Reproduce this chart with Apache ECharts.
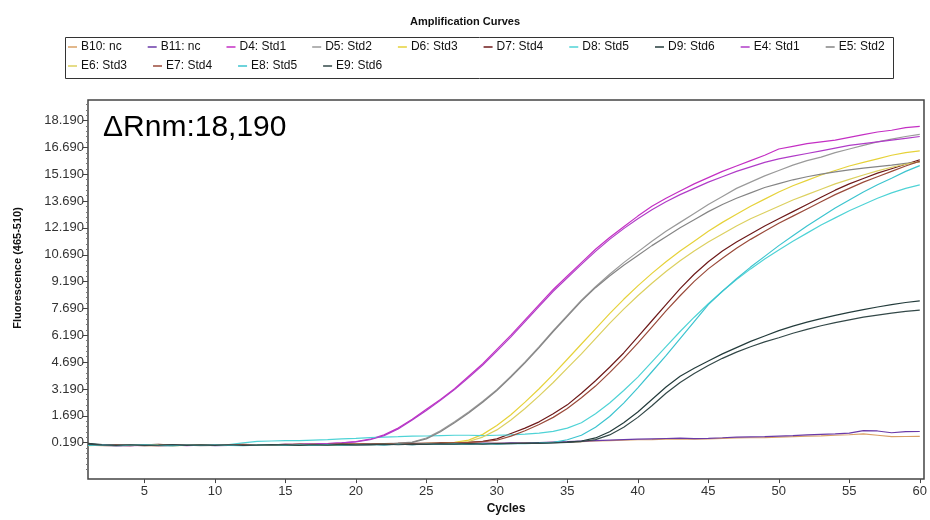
<!DOCTYPE html>
<html><head><meta charset="utf-8">
<script src="https://cdn.jsdelivr.net/npm/echarts@6/dist/echarts.min.js"></script>
<style>html,body{margin:0;padding:0;background:#fff}#c{width:930px;height:520px}</style>
</head><body><div id="c"></div>
<script>
// ---------- DATA ----------
const cycles = [1,2,3,4,5,6,7,8,9,10,11,12,13,14,15,16,17,18,19,20,21,22,23,24,25,26,27,28,29,30,31,32,33,34,35,36,37,38,39,40,41,42,43,44,45,46,47,48,49,50,51,52,53,54,55,56,57,58,59,60];
const xTickValues = [5,10,15,20,25,30,35,40,45,50,55,60];
const yTickValues = [0.19,1.69,3.19,4.69,6.19,7.69,9.19,10.69,12.19,13.69,15.19,16.69,18.19];
const seriesNames = ['B10: nc','B11: nc','D4: Std1','D5: Std2','D6: Std3','D7: Std4','D8: Std5','D9: Std6','E4: Std1','E5: Std2','E6: Std3','E7: Std4','E8: Std5','E9: Std6'];

const b10 = [0.05,0.02,0.03,0.06,0.04,0.01,0.05,0.07,0.04,0.03, 0.05,0.08,0.06,0.04,0.07,0.09,0.06,0.08,0.1,0.07, 0.09,0.12,0.1,0.13,0.11,0.14,0.12,0.15,0.13,0.16, 0.15,0.17,0.18,0.2,0.22,0.25,0.28,0.3,0.33,0.35, 0.36,0.38,0.4,0.38,0.4,0.43,0.45,0.46,0.47,0.5, 0.52,0.55,0.57,0.6,0.63,0.68,0.6,0.52,0.53,0.54];
const b11 = [0.1,0.04,0.0,0.03,0.05,0.02,0.04,0.03,0.06,0.02, 0.04,0.06,0.03,0.07,0.05,0.06,0.08,0.05,0.07,0.09, 0.08,0.1,0.12,0.09,0.13,0.11,0.14,0.12,0.16,0.15, 0.17,0.16,0.19,0.22,0.24,0.27,0.3,0.33,0.36,0.38, 0.4,0.42,0.44,0.41,0.43,0.46,0.5,0.51,0.52,0.55, 0.58,0.62,0.65,0.68,0.72,0.86,0.84,0.74,0.8,0.81];
const d4 = [0.06,0.03,0.05,0.02,0.04,0.06,0.03,0.05,0.07,0.04, 0.06,0.05,0.08,0.06,0.09,0.1,0.12,0.14,0.18,0.25, 0.38,0.62,1.0,1.5,2.05,2.6,3.2,3.9,4.6,5.4, 6.2,7.05,7.9,8.75,9.5,10.25,11.0,11.65,12.25,12.85, 13.4,13.85,14.25,14.65,15.0,15.35,15.65,15.95,16.25,16.6, 16.75,16.9,17.0,17.1,17.25,17.4,17.55,17.65,17.8,17.87];
const d5 = [0.04,0.07,0.03,0.05,0.02,0.06,0.04,0.03,0.05,0.08, 0.05,0.07,0.04,0.06,0.08,0.05,0.09,0.07,0.1,0.12, 0.11,0.14,0.16,0.22,0.45,0.85,1.35,1.9,2.5,3.15, 3.9,4.7,5.55,6.45,7.3,8.15,8.9,9.6,10.25,10.85, 11.45,12.0,12.5,13.0,13.5,13.95,14.4,14.75,15.1,15.4, 15.7,15.95,16.15,16.4,16.6,16.8,17.0,17.15,17.3,17.42];
const d6 = [0.02,0.05,0.07,0.04,0.06,0.03,0.05,0.08,0.06,0.04, 0.06,0.04,0.07,0.05,0.08,0.06,0.04,0.07,0.09,0.08, 0.1,0.12,0.11,0.14,0.13,0.16,0.2,0.33,0.65,1.15, 1.75,2.45,3.2,4.0,4.85,5.7,6.55,7.4,8.2,8.95, 9.65,10.3,10.9,11.45,12.0,12.5,12.95,13.4,13.8,14.2, 14.55,14.85,15.15,15.4,15.65,15.85,16.05,16.25,16.4,16.5];
const d7 = [0.05,0.08,0.04,0.02,0.06,0.09,0.05,0.03,0.07,0.05, 0.08,0.06,0.04,0.07,0.09,0.06,0.1,0.08,0.07,0.11, 0.09,0.13,0.12,0.15,0.14,0.17,0.19,0.21,0.26,0.4, 0.7,1.0,1.35,1.8,2.3,2.95,3.65,4.4,5.2,6.1, 7.0,7.9,8.8,9.6,10.3,10.9,11.4,11.85,12.3,12.7, 13.1,13.5,13.9,14.3,14.65,14.95,15.25,15.5,15.75,16.0];
const d8 = [0.12,0.05,0.08,0.04,0.06,0.03,0.07,0.05,0.04,0.06, 0.08,0.18,0.26,0.28,0.3,0.3,0.33,0.36,0.4,0.43, 0.47,0.5,0.52,0.55,0.56,0.58,0.6,0.6,0.58,0.6, 0.62,0.66,0.72,0.82,1.0,1.3,1.8,2.4,3.1,3.85, 4.7,5.55,6.4,7.2,7.95,8.65,9.3,9.9,10.45,10.95, 11.45,11.9,12.35,12.75,13.15,13.5,13.85,14.15,14.4,14.6];
const d9 = [0.15,0.08,0.05,0.03,0.06,0.04,0.02,0.05,0.07,0.03, 0.05,0.04,0.06,0.03,0.07,0.05,0.08,0.06,0.04,0.07, 0.09,0.06,0.1,0.08,0.12,0.1,0.13,0.11,0.14,0.12, 0.15,0.14,0.17,0.19,0.22,0.28,0.45,0.8,1.3,1.9, 2.6,3.3,3.9,4.35,4.75,5.15,5.5,5.85,6.15,6.45, 6.7,6.92,7.12,7.3,7.47,7.62,7.77,7.9,8.02,8.11];
const e4 = [0.03,0.06,0.02,0.05,0.03,0.04,0.06,0.02,0.05,0.06, 0.04,0.07,0.05,0.08,0.07,0.09,0.11,0.13,0.17,0.23, 0.35,0.58,0.95,1.45,1.98,2.55,3.15,3.82,4.52,5.3, 6.1,6.95,7.8,8.65,9.4,10.15,10.88,11.55,12.15,12.7, 13.2,13.65,14.05,14.4,14.75,15.05,15.35,15.6,15.85,16.05, 16.2,16.35,16.5,16.65,16.8,16.9,17.0,17.1,17.2,17.3];
const e5 = [0.06,0.03,0.05,0.07,0.04,0.03,0.06,0.05,0.02,0.04, 0.07,0.05,0.08,0.04,0.06,0.09,0.06,0.08,0.11,0.1, 0.13,0.12,0.15,0.2,0.4,0.8,1.3,1.85,2.45,3.1, 3.85,4.65,5.5,6.4,7.25,8.1,8.85,9.5,10.1,10.65, 11.2,11.7,12.2,12.65,13.1,13.5,13.85,14.15,14.45,14.67, 14.88,15.05,15.2,15.32,15.43,15.53,15.62,15.7,15.8,15.87];
const e6 = [0.07,0.04,0.02,0.05,0.03,0.06,0.02,0.04,0.07,0.05, 0.03,0.06,0.05,0.08,0.04,0.07,0.09,0.05,0.06,0.1, 0.08,0.11,0.13,0.1,0.15,0.14,0.17,0.25,0.5,0.9, 1.45,2.1,2.8,3.55,4.35,5.15,6.0,6.85,7.65,8.4, 9.1,9.75,10.35,10.9,11.4,11.85,12.3,12.7,13.05,13.4, 13.75,14.05,14.35,14.65,14.9,15.15,15.38,15.58,15.75,15.9];
const e7 = [0.09,0.03,0.06,0.05,0.02,0.04,0.07,0.06,0.03,0.08, 0.05,0.09,0.07,0.05,0.08,0.1,0.07,0.09,0.12,0.1, 0.13,0.11,0.15,0.13,0.16,0.15,0.18,0.2,0.24,0.32, 0.55,0.85,1.2,1.6,2.1,2.7,3.35,4.1,4.9,5.75, 6.65,7.55,8.4,9.2,9.9,10.5,11.05,11.55,12.0,12.45, 12.85,13.25,13.65,14.05,14.4,14.75,15.05,15.35,15.65,15.92];
const e8 = [0.03,0.06,0.02,0.05,0.07,0.04,0.02,0.05,0.03,0.06, 0.04,0.02,0.05,0.07,0.03,0.06,0.04,0.08,0.05,0.07, 0.09,0.06,0.1,0.08,0.11,0.09,0.12,0.1,0.13,0.11, 0.14,0.13,0.16,0.2,0.35,0.6,1.05,1.65,2.4,3.25, 4.15,5.05,6.0,6.95,7.9,8.65,9.35,10.0,10.6,11.2, 11.75,12.3,12.8,13.3,13.75,14.2,14.6,14.97,15.35,15.67];
const e9 = [0.1,0.06,0.03,0.07,0.04,0.05,0.08,0.03,0.06,0.04, 0.07,0.03,0.05,0.08,0.06,0.04,0.07,0.05,0.09,0.06, 0.08,0.1,0.07,0.11,0.09,0.12,0.1,0.13,0.11,0.14, 0.13,0.16,0.15,0.18,0.2,0.25,0.36,0.62,1.05,1.6, 2.25,2.95,3.55,4.05,4.5,4.9,5.25,5.55,5.82,6.05, 6.3,6.52,6.72,6.9,7.05,7.2,7.32,7.43,7.52,7.6];

const seriesValues = [b10,b11,d4,d5,d6,d7,d8,d9,e4,e5,e6,e7,e8,e9];

// ---------- STYLE ----------
const colors = ['#d9a066','#6a3aa8','#c42fc4','#9a9a9a','#e6d23a','#6e1a1a','#4fd3d6','#243c3c','#b03cc8','#858585','#dcd060','#9a4a3a','#3cc4cf','#334848'];
const FONT = "'Liberation Sans', Arial, sans-serif";

const chart = echarts.init(document.getElementById('c'), null, {renderer:'canvas'});

const minorY = [];
for (let i = 0; i < yTickValues.length; i++) {
  for (let k = -5; k < 5; k++) minorY.push(+(yTickValues[i] + k * 0.3).toFixed(2));
}
const minorYFiltered = minorY.filter(v => v > -1.85 && v < 19.34 && !yTickValues.includes(v));

const series = seriesNames.map((n, i) => ({
  name: n,
  type: 'line',
  showSymbol: false,
  symbol: 'none',
  smooth: false,
  lineStyle: {width: 1.2, color: colors[i]},
  itemStyle: {color: colors[i]},
  emphasis: {disabled: true},
  data: cycles.map((c, j) => [c, seriesValues[i][j]])
}));

const legendCommon = {
  icon: 'rect', itemWidth: 9, itemHeight: 1.5, itemGap: 26,
  padding: 0, orient: 'horizontal',
  textStyle: {fontFamily: FONT, fontSize: 12, color: '#111', padding: [0,0,0,-1]},
  selectedMode: false
};

chart.setOption({
  animation: false,
  backgroundColor: '#fff',
  title: {
    text: 'Amplification Curves', left: 'center', top: 11,
    textStyle: {fontFamily: FONT, fontSize: 11, fontWeight: 'bold', color: '#111'}
  },
  legend: [
    Object.assign({left: 68, top: 41, data: seriesNames.slice(0,10)}, legendCommon),
    Object.assign({left: 68, top: 60, data: seriesNames.slice(10)}, legendCommon)
  ],
  grid: {left: 88, right: 3, top: 100, bottom: 35, show: true, borderColor: '#444', borderWidth: 1.5, backgroundColor: '#fff', containLabel: false},
  xAxis: {
    type: 'value', min: 1, max: 60.3,
    name: 'Cycles', nameLocation: 'middle', nameGap: 21,
    nameTextStyle: {fontFamily: FONT, fontSize: 12, fontWeight: 'bold', color: '#111'},
    axisLine: {show: false, onZero: false},
    axisTick: {show: true, customValues: xTickValues, length: 4, lineStyle: {color: '#444'}},
    axisLabel: {customValues: xTickValues, fontFamily: FONT, fontSize: 13, color: '#333', margin: 6},
    splitLine: {show: false}
  },
  yAxis: [{
    type: 'value', min: -1.85, max: 19.34,
    axisLine: {show: false, onZero: false},
    axisTick: {show: true, customValues: yTickValues, length: 5, lineStyle: {color: '#444'}},
    axisLabel: {customValues: yTickValues, formatter: v => Number(v).toFixed(3), fontFamily: FONT, fontSize: 13, color: '#333', margin: 4},
    splitLine: {show: false}
  }, {
    type: 'value', min: -1.85, max: 19.34, position: 'left',
    axisLine: {show: false, onZero: false},
    axisTick: {show: true, customValues: minorYFiltered, length: 2, lineStyle: {color: '#777'}},
    axisLabel: {show: false},
    splitLine: {show: false}
  }],
  graphic: [
    {type: 'rect', shape: {x: 65.5, y: 37.5, width: 828, height: 41}, style: {fill: 'none', stroke: '#333', lineWidth: 1}, silent: true},
    {type: 'text', x: 103, y: 113, style: {text: 'ΔRnm:18,190', fontFamily: FONT, fontSize: 30, fill: '#000'}, silent: true, z: 100},
    {type: 'text', x: 18, y: 268, rotation: Math.PI/2, style: {text: 'Fluorescence (465-510)', fontFamily: FONT, fontSize: 11, fontWeight: 'bold', fill: '#111', align: 'center', verticalAlign: 'middle'}, silent: true}
  ],
  series: series
});
</script>
</body></html>
